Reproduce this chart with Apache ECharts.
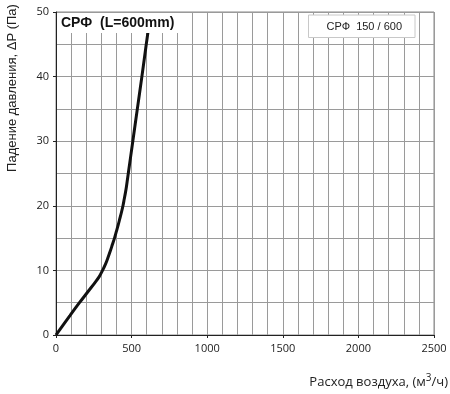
<!DOCTYPE html>
<html>
<head>
<meta charset="utf-8">
<script src="https://cdn.jsdelivr.net/npm/echarts@6/dist/echarts.min.js"></script>
<style>
  html, body { margin: 0; padding: 0; background: #fff; }
  #chart { width: 450px; height: 394px; }
</style>
</head>
<body>
<div id="chart"></div>
<script>
// air flow (m3/h) and pressure drop (Pa)
var flow = [0, 30, 61, 92, 123, 155, 188, 221, 254, 285, 308, 328, 344, 359, 373, 387,
  399, 411, 422, 433, 443, 451, 459, 466, 472, 478, 508, 538, 568, 597, 609]
var pressure = [0, 1, 2, 3, 4, 5, 6, 7, 8, 9, 10, 11, 12, 13, 14, 15,
  16, 17, 18, 19, 20, 21, 22, 23, 24, 25, 30, 35, 40, 45, 47]
var seriesName = 'СРФ  150 / 600'
var titleText = 'СРФ  (L=600mm)'

var chart = echarts.init(document.getElementById('chart'), null, { renderer: 'canvas' })

var gridLine = { show: true, lineStyle: { color: '#9a9a9a', width: 1 } }

chart.setOption({
  animation: false,
  backgroundColor: '#fff',
  grid: { left: 56, right: 16, top: 12, bottom: 59, show: true, borderColor: '#888', borderWidth: 1 },
  title: {
    text: titleText,
    left: 57,
    top: 13,
    padding: [3, 16, 3, 4],
    backgroundColor: '#fff',
    textStyle: { fontFamily: 'Liberation Sans', fontSize: 14, fontWeight: 'bold', color: '#111' }
  },
  legend: {
    data: [seriesName],
    right: 35,
    top: 15,
    icon: 'none',
    itemWidth: 0,
    padding: [5, 13, 5, 13],
    backgroundColor: '#fff',
    borderColor: '#c8c8c8',
    borderWidth: 1,
    borderRadius: 0,
    textStyle: { fontFamily: 'Liberation Sans', fontSize: 11, color: '#222', padding: [0, 0, 0, 0] }
  },
  xAxis: {
    type: 'value',
    min: 0,
    max: 2500,
    interval: 500,
    axisLine: { show: true, onZero: false, lineStyle: { color: '#222', width: 1 } },
    axisTick: { show: true, length: 3, lineStyle: { color: '#222' } },
    minorTick: { show: false, splitNumber: 5 },
    splitLine: gridLine,
    minorSplitLine: { show: true, lineStyle: { color: '#9a9a9a', width: 1 } },
    axisLabel: {
      fontFamily: 'Open Sans', fontSize: 11, color: '#222', margin: 8,
      formatter: function (v) { return String(v) }
    }
  },
  yAxis: {
    type: 'value',
    min: 0,
    max: 50,
    interval: 10,
    axisLine: { show: true, onZero: false, lineStyle: { color: '#222', width: 1 } },
    axisTick: { show: true, length: 3, lineStyle: { color: '#222' } },
    minorTick: { show: false, splitNumber: 2 },
    splitLine: gridLine,
    minorSplitLine: { show: true, lineStyle: { color: '#9a9a9a', width: 1 } },
    axisLabel: { fontFamily: 'Open Sans', fontSize: 11, color: '#222', margin: 7 }
  },
  graphic: [
    {
      type: 'text',
      x: 12,
      y: 88,
      rotation: Math.PI / 2,
      style: {
        text: 'Падение давления, ΔP (Па)',
        fontFamily: 'Liberation Sans',
        fontSize: 13,
        fill: '#222',
        align: 'center',
        verticalAlign: 'middle'
      }
    },
    {
      type: 'text',
      x: 448,
      y: 381,
      style: {
        text: '{a|Расход воздуха, (м}{s|3}{a|/ч)}',
        align: 'right',
        verticalAlign: 'middle',
        rich: {
          a: { fontFamily: 'Open Sans', fontSize: 13, fill: '#222', verticalAlign: 'bottom' },
          s: { fontFamily: 'Open Sans', fontSize: 10, fill: '#222', padding: [0, 0, 6, 0], verticalAlign: 'top' }
        }
      }
    }
  ],
  series: [{
    name: seriesName,
    type: 'line',
    smooth: 0.3,
    symbol: 'none',
    lineStyle: { color: '#111', width: 3 },
    data: flow.map(function (f, i) { return [f, pressure[i]] })
  }]
})
</script>
</body>
</html>
